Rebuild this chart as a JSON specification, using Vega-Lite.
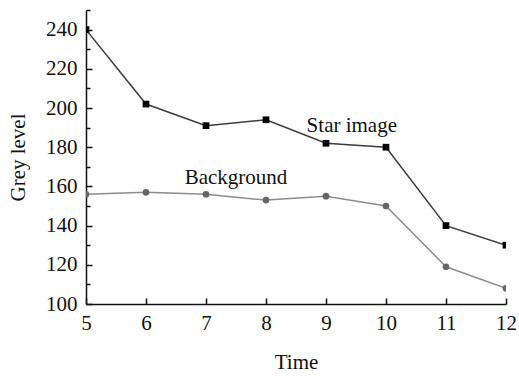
{
  "$schema": "https://vega.github.io/schema/vega-lite/v6.json",
  "width": 420,
  "height": 294,
  "autosize": {"type": "none"},
  "padding": {"left": 86, "top": 10, "right": 13, "bottom": 72},
  "background": "white",
  "config": {
    "view": {"stroke": null},
    "font": "Liberation Serif",
    "axis": {
      "grid": false,
      "domainColor": "#111",
      "domainWidth": 1.5,
      "tickColor": "#111",
      "tickWidth": 1.5,
      "labelFont": "Liberation Serif",
      "labelFontSize": 21,
      "labelColor": "#111",
      "titleFont": "Liberation Serif",
      "titleFontSize": 21,
      "titleFontWeight": "normal",
      "titleColor": "#111"
    }
  },
  "datasets": {
    "series": [
      {"time": 5, "grey": 240, "series": "Star image"},
      {"time": 6, "grey": 202, "series": "Star image"},
      {"time": 7, "grey": 191, "series": "Star image"},
      {"time": 8, "grey": 194, "series": "Star image"},
      {"time": 9, "grey": 182, "series": "Star image"},
      {"time": 10, "grey": 180, "series": "Star image"},
      {"time": 11, "grey": 140, "series": "Star image"},
      {"time": 12, "grey": 130, "series": "Star image"},
      {"time": 5, "grey": 156, "series": "Background"},
      {"time": 6, "grey": 157, "series": "Background"},
      {"time": 7, "grey": 156, "series": "Background"},
      {"time": 8, "grey": 153, "series": "Background"},
      {"time": 9, "grey": 155, "series": "Background"},
      {"time": 10, "grey": 150, "series": "Background"},
      {"time": 11, "grey": 119, "series": "Background"},
      {"time": 12, "grey": 108, "series": "Background"}
    ],
    "notes": [
      {"time": 9.43, "grey": 188, "text": "Star image"},
      {"time": 7.5, "grey": 161, "text": "Background"}
    ]
  },
  "encoding": {
    "x": {
      "field": "time",
      "type": "quantitative",
      "scale": {"domain": [5, 12], "nice": false, "zero": false},
      "axis": {
        "title": "Time",
        "format": "d",
        "values": [5, 5.5, 6, 6.5, 7, 7.5, 8, 8.5, 9, 9.5, 10, 10.5, 11, 11.5, 12],
        "labelExpr": "datum.value % 1 === 0 ? datum.label : ''",
        "tickSize": {"condition": {"test": "datum.value % 1 === 0", "value": -6}, "value": -4},
        "labelFont": "Liberation Serif",
        "labelFontSize": 21,
        "labelPadding": 14,
        "titlePadding": 18,
        "labelFlush": false
      }
    },
    "y": {
      "field": "grey",
      "type": "quantitative",
      "scale": {"domain": [100, 250], "nice": false, "zero": false},
      "axis": {
        "title": "Grey level",
        "format": "d",
        "values": [100, 110, 120, 130, 140, 150, 160, 170, 180, 190, 200, 210, 220, 230, 240, 250],
        "labelExpr": "datum.value % 20 === 0 && datum.value <= 240 ? datum.label : ''",
        "tickSize": {"condition": {"test": "datum.value % 20 === 0", "value": -6}, "value": -4},
        "labelFont": "Liberation Serif",
        "labelFontSize": 21,
        "labelPadding": 15,
        "titlePadding": 17,
        "labelFlush": false
      }
    }
  },
  "layer": [
    {
      "data": {"name": "series"},
      "mark": {"type": "line", "strokeWidth": 1.5, "clip": true},
      "encoding": {
        "detail": {"field": "series"},
        "color": {
          "field": "series",
          "type": "nominal",
          "scale": {"domain": ["Star image", "Background"], "range": ["#3c3c3c", "#8c8c8c"]},
          "legend": null
        }
      }
    },
    {
      "data": {"name": "series"},
      "mark": {"type": "point", "filled": true, "opacity": 1, "size": 45, "clip": true},
      "encoding": {
        "shape": {
          "field": "series",
          "type": "nominal",
          "scale": {"domain": ["Star image", "Background"], "range": ["square", "circle"]},
          "legend": null
        },
        "color": {
          "field": "series",
          "type": "nominal",
          "scale": {"domain": ["Star image", "Background"], "range": ["#000000", "#666666"]},
          "legend": null
        }
      }
    },
    {
      "data": {"name": "notes"},
      "mark": {"type": "text", "font": "Liberation Serif", "fontSize": 21, "color": "#111", "baseline": "alphabetic", "align": "center"},
      "encoding": {
        "text": {"field": "text"}
      }
    }
  ],
  "resolve": {"scale": {"color": "independent", "shape": "independent"}}
}
